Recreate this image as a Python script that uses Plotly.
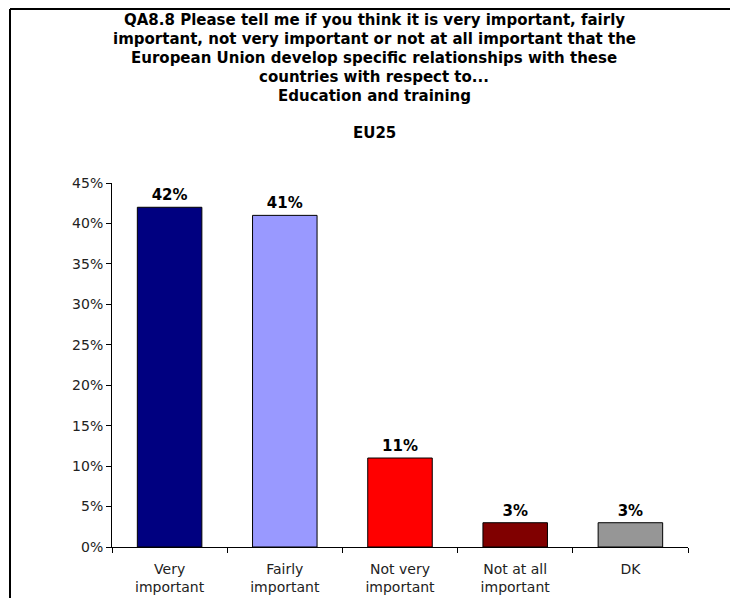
import plotly.graph_objects as go

# ── data ────────────────────────────────────────────────────────────────
categories = ["Very<br>important", "Fairly<br>important", "Not very<br>important",
              "Not at all<br>important", "DK"]
values = [0.42, 0.41, 0.11, 0.03, 0.03]
bar_colors = ["#000080", "#9999FF", "#FF0000", "#800000", "#969696"]

title_lines = [
    "QA8.8 Please tell me if you think it is very important, fairly",
    "important, not very important or not at all important that the",
    "European Union develop specific relationships with these",
    "countries with respect to...",
    "Education and training",
]
subtitle_text = "EU25"

# page body adds an 8px offset, so the figure is shifted by 8px
W, H = 722, 590
L, R, T, B = 104, 42, 175, 51
PW, PH = W - L - R, H - T - B

fig = go.Figure(go.Bar(
    x=categories,
    y=values,
    marker=dict(color=bar_colors, line=dict(color="black", width=1)),
    text=[f"{v:.0%}" for v in values],
    textposition="outside",
    cliponaxis=False,
    textfont=dict(family="DejaVu Sans", size=15, color="black", weight="bold"),
))

fig.update_layout(
    width=W, height=H,
    margin=dict(l=L, r=R, t=T, b=B, autoexpand=False),
    paper_bgcolor="white", plot_bgcolor="white",
    bargap=0.44,
    showlegend=False,
    font=dict(family="DejaVu Sans", size=14, color="black"),
)

fig.update_yaxes(
    range=[0, 0.45], dtick=0.05, tickformat=".0%",
    showgrid=False, zeroline=False, automargin=False,
    showline=True, linecolor="black", linewidth=1,
    ticks="outside", ticklen=5, tickcolor="black",
    tickfont=dict(family="DejaVu Sans", size=14, color="#222"),
)
fig.update_xaxes(
    showgrid=False, showline=True, linecolor="black", linewidth=1,
    ticks="outside", ticklen=5, tickcolor="black", tickson="boundaries",
    ticklabelstandoff=9, automargin=False,
    tickfont=dict(family="DejaVu Sans", size=14, color="#222"),
)

# title block, one annotation per line (19px line pitch)
cx = (366 - L) / PW
for i, line in enumerate(title_lines):
    y_px = 12 + 19 * i
    fig.add_annotation(
        text=f"<b>{line}</b>", xref="paper", yref="paper",
        x=cx, y=1 + (T - y_px) / PH, xanchor="center", yanchor="middle",
        showarrow=False,
        font=dict(family="DejaVu Sans", size=15, color="black"),
    )
fig.add_annotation(
    text=f"<b>{subtitle_text}</b>", xref="paper", yref="paper",
    x=cx, y=1 + (T - 125) / PH, xanchor="center", yanchor="middle",
    showarrow=False,
    font=dict(family="DejaVu Sans", size=15, color="black"),
)

# outer frame: only left and top edges fall inside the page
frame_left = (2 - L) / PW
frame_top = 1 + (T - 1) / PH
fig.add_shape(type="line", xref="paper", yref="paper",
              x0=frame_left, x1=frame_left, y0=frame_top, y1=-0.5,
              line=dict(color="black", width=2))
fig.add_shape(type="line", xref="paper", yref="paper",
              x0=frame_left, x1=1 + 100 / PW, y0=frame_top, y1=frame_top,
              line=dict(color="black", width=2))

fig.write_html("out.html")
